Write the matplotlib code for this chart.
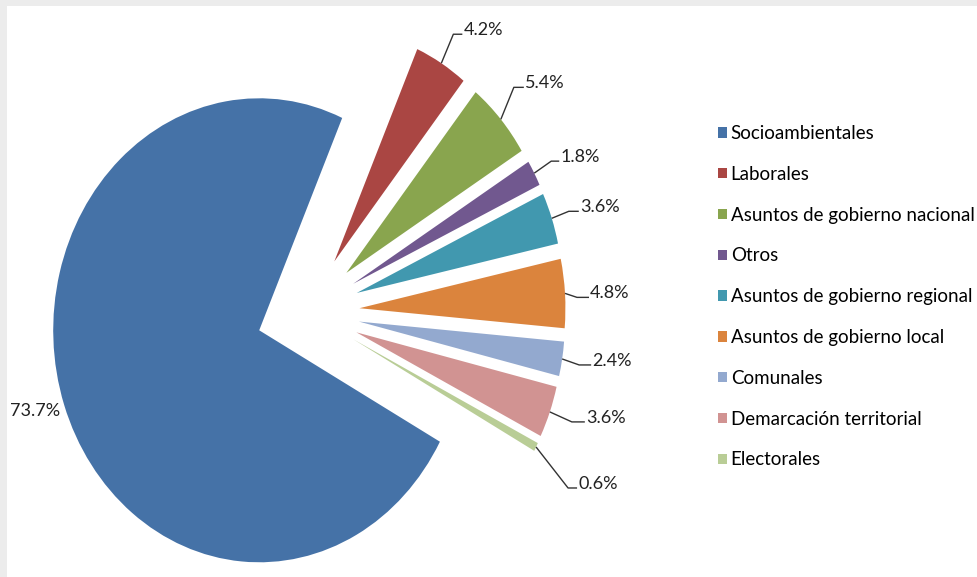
import matplotlib
matplotlib.use("Agg")
import matplotlib.pyplot as plt
from matplotlib.patches import Patch, Rectangle
from matplotlib.transforms import IdentityTransform
import numpy as np

categories = ["Socioambientales", "Laborales", "Asuntos de gobierno nacional", "Otros",
              "Asuntos de gobierno regional", "Asuntos de gobierno local", "Comunales",
              "Demarcación territorial", "Electorales"]
values = [73.7, 4.2, 5.4, 1.8, 3.6, 4.8, 2.4, 3.6, 0.6]
labels = ["73.7%", "4.2%", "5.4%", "1.8%", "3.6%", "4.8%", "2.4%", "3.6%", "0.6%"]
colors = ["#4572A7", "#AA4643", "#89A54E", "#71588F", "#4198AF", "#DB843D",
          "#93A9CF", "#D19392", "#B9CD96"]

W, H = 977, 577
fig = plt.figure(figsize=(W / 100, H / 100), dpi=100)
fig.patch.set_facecolor("white")
plt.rcParams["font.family"] = ["Lato", "DejaVu Sans"]

# light grey shadow on top and left
fig.patches.append(Rectangle((0, 1 - 6 / H), 1, 6 / H, transform=fig.transFigure,
                             facecolor="#ececec", edgecolor="none", zorder=0))
fig.patches.append(Rectangle((0, 0), 7 / W, 1, transform=fig.transFigure,
                             facecolor="#ececec", edgecolor="none", zorder=0))

ax = fig.add_axes([0, 0, 1, 1])
ax.patch.set_alpha(0)
explode = [0.245] + [0.255] * (len(values) - 1)
wedges, _ = ax.pie(values, colors=colors, startangle=-28.7, counterclock=False,
                   explode=explode, radius=1, wedgeprops=dict(linewidth=0))
ax.set_aspect("auto")
cx, cy, rx, ry = 307, 312, 206, 232
ax.set_xlim(-cx / rx, (W - cx) / rx)
ax.set_ylim(-(H - cy) / ry, cy / ry)
ax.axis("off")

# leader-line offsets in pixels (dx right, dy down), horizontal tail length
leaders = [None, (12, -29, 9), (13, -32, 10), (17, -12, 8), (17, -7, 10),
           (12, 4, 12), (17, 6, 12), (22, 10, 13), (32, 41, 9)]
label_size = 13
for i, w in enumerate(wedges):
    mid = np.deg2rad((w.theta1 + w.theta2) / 2)
    ax_pt = (w.center[0] + w.r * np.cos(mid), w.center[1] + w.r * np.sin(mid))
    px, py = ax.transData.transform(ax_pt)
    if leaders[i] is None:
        ax.text(px - 4, py - 6, labels[i], transform=IdentityTransform(),
                ha="right", va="center", fontsize=label_size, color="#222222")
        continue
    dx, dy, tail = leaders[i]
    ex, ey = px + dx, py - dy
    ax.plot([px, ex, ex + tail], [py, ey, ey], transform=IdentityTransform(),
            color="#333333", lw=1.0, solid_capstyle="butt")
    ax.text(ex + tail + 1, ey - 1, labels[i], transform=IdentityTransform(),
            ha="left", va="baseline", fontsize=label_size, color="#222222")

handles = [Patch(facecolor=c, edgecolor="none") for c in colors]
fig.legend(handles, categories, loc="upper left",
           bbox_to_anchor=(718 / W, 1 - 125 / H), frameon=False, fontsize=13.5,
           handlelength=0.48, handleheight=0.48, handletextpad=0.2,
           labelspacing=1.27, borderpad=0, borderaxespad=0)

fig.savefig("out.png", dpi=100)
